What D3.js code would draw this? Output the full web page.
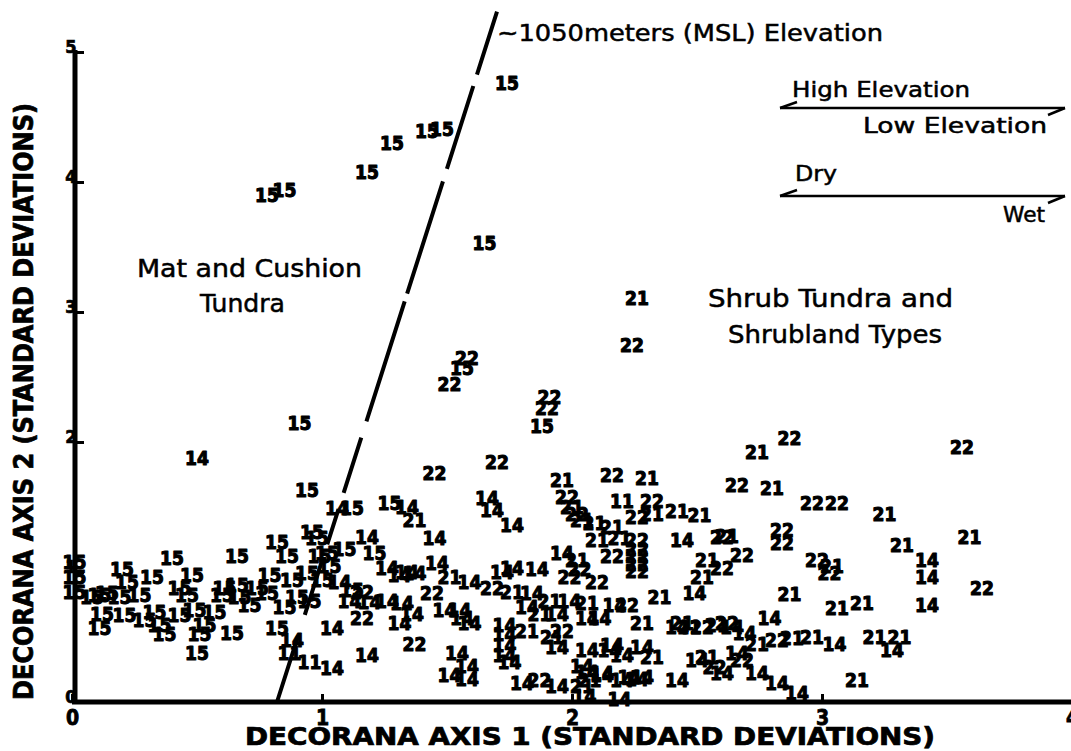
<!DOCTYPE html>
<html>
<head>
<meta charset="utf-8">
<script src="https://cdn.jsdelivr.net/npm/d3@7"></script>
<style>
  body { margin: 0; background: #fff; }
  svg { display: block; }
</style>
</head>
<body>
<svg id="chart" width="1071" height="751"></svg>
<script>
// DECORANA ordination: plot positions (axis 1, axis 2 in standard deviations),
// each plot drawn as its vegetation-type number.
const xTickValues = [0, 1, 2, 3, 4];
const yTickValues = [0, 1, 2, 3, 4, 5];

const type15 = [
  [1.74,4.76],[1.28,4.30],[1.42,4.39],[1.48,4.41],[1.18,4.08],[0.78,3.90],[0.85,3.94],
  [1.65,3.53],[1.56,2.57],[1.88,2.12],[0.91,2.15],[0.94,1.63],[1.12,1.49],[1.27,1.53],
  [0.96,1.31],[0.98,1.26],[0.82,1.23],[0.66,1.12],[0.40,1.11],[0.20,1.02],[0.32,0.96],
  [0.48,0.98],[0.79,0.98],[0.86,1.12],[0.99,1.12],[0.01,1.08],[0.01,0.96],[0.01,0.85],
  [0.11,0.82],[0.22,0.92],[0.43,0.88],[0.61,0.88],[0.66,0.90],[0.74,0.88],[0.88,0.94],
  [0.94,0.99],[0.08,0.81],[0.14,0.84],[0.19,0.81],[0.27,0.82],[0.46,0.82],[0.60,0.82],
  [0.67,0.81],[0.78,0.84],[0.90,0.81],[0.12,0.68],[0.21,0.67],[0.33,0.69],[0.35,0.59],
  [0.37,0.52],[0.49,0.71],[0.53,0.59],[0.51,0.52],[0.64,0.53],[0.11,0.57],[0.50,0.38],
  [0.82,0.57],[1.02,1.15],[1.09,1.18],[1.21,1.15],[1.03,1.05],[1.00,0.94],[1.12,0.86],
  [0.29,0.63],[0.43,0.67],[0.57,0.69],[0.71,0.75],[0.85,0.73],[0.95,0.78]
];

const type14 = [
  [0.50,1.88],[1.06,1.49],[1.34,1.50],[1.45,1.26],[1.66,1.57],[1.68,1.48],[1.76,1.36],
  [1.18,1.27],[1.26,1.03],[1.31,0.98],[1.34,1.00],[1.46,1.07],[1.59,0.92],[1.72,1.00],
  [1.76,1.03],[2.44,1.25],[3.42,1.09],[3.42,0.96],[3.42,0.75],[3.28,0.40],[2.49,0.84],
  [2.79,0.65],[2.17,0.75],[2.06,0.40],[2.16,0.44],[2.20,0.36],[2.64,0.58],[2.69,0.53],
  [2.50,0.32],[2.60,0.22],[2.66,0.38],[2.74,0.22],[2.82,0.15],[2.90,0.07],[2.06,0.23],
  [2.12,0.21],[2.20,0.17],[2.26,0.18],[2.42,0.17],[2.19,0.02],[1.04,0.57],[1.19,0.77],
  [1.26,0.78],[1.32,0.76],[1.31,0.61],[1.36,0.68],[1.49,0.71],[1.55,0.71],[1.56,0.65],
  [1.59,0.61],[1.18,0.36],[1.04,0.26],[1.54,0.38],[1.58,0.28],[1.51,0.21],[1.58,0.18],
  [1.94,0.12],[1.73,0.59],[1.73,0.52],[1.73,0.44],[1.73,0.36],[1.75,0.31],[0.88,0.48],
  [1.84,0.84],[1.99,0.78],[2.06,0.65],[1.94,0.68],[1.82,0.73],[1.94,0.42],[1.96,1.15],
  [1.86,1.02],[2.42,0.58],[2.28,0.42],[2.04,0.28],[2.12,0.22],[2.23,0.19],[2.28,0.19],
  [1.07,0.92],[1.11,0.78],[2.15,0.40],[1.37,0.99],[2.11,0.65],[3.05,0.45],[1.80,0.15],
  [2.05,0.05]
];

const type21 = [
  [2.26,3.11],[1.37,1.40],[1.51,0.96],[1.96,1.71],[2.00,1.50],[2.04,1.40],[2.30,1.72],
  [2.74,1.92],[2.80,1.65],[3.25,1.45],[3.32,1.21],[3.59,1.27],[2.32,1.45],[2.42,1.47],
  [2.51,1.44],[2.09,1.38],[2.16,1.35],[2.19,1.26],[2.10,1.25],[2.62,1.28],[2.54,1.09],
  [2.52,0.96],[2.02,1.09],[2.87,0.83],[3.04,1.05],[2.35,0.81],[1.91,0.78],[2.06,0.76],
  [1.87,0.68],[1.92,0.50],[2.28,0.61],[2.47,0.58],[2.32,0.35],[2.04,0.12],[2.07,0.17],
  [2.44,0.61],[2.58,0.59],[2.74,0.45],[2.88,0.49],[2.96,0.50],[3.06,0.72],[3.16,0.76],
  [3.21,0.50],[3.31,0.50],[3.14,0.17],[2.54,0.35],[1.76,0.85],[1.82,0.55]
];

const type22 = [
  [2.24,2.75],[1.58,2.65],[1.51,2.45],[1.91,2.35],[1.90,2.26],[1.45,1.76],[1.70,1.85],
  [2.16,1.75],[2.87,2.03],[3.56,1.96],[2.66,1.67],[2.96,1.53],[3.06,1.53],[3.64,0.88],
  [1.98,1.58],[2.02,1.45],[2.32,1.55],[2.26,1.42],[2.60,1.27],[2.16,1.12],[2.26,1.25],
  [2.26,1.18],[2.26,1.12],[2.26,1.06],[2.26,1.01],[2.68,1.13],[2.84,1.32],[2.84,1.22],
  [2.60,1.03],[2.98,1.09],[3.03,0.99],[2.10,0.92],[2.03,1.02],[1.99,0.96],[1.44,0.84],
  [1.68,0.88],[1.16,0.65],[1.37,0.45],[1.96,0.55],[2.22,0.75],[2.52,0.58],[2.62,0.61],
  [2.82,0.48],[2.57,0.27],[2.68,0.32],[1.87,0.17],[1.16,0.85]
];

const type11 = [[2.20,1.55],[0.95,0.31],[0.87,0.38]];

// Dashed boundary near ~1050 m elevation (axis-1, axis-2 end points)
const elevationBoundary = [[1.70,5.31],[0.82,0.0]];

const plotGroups = [
  { label: "15", points: type15 },
  { label: "14", points: type14 },
  { label: "21", points: type21 },
  { label: "22", points: type22 },
  { label: "11", points: type11 }
];

const svg = d3.select("#chart");
const x = d3.scaleLinear().domain([0, 4]).range([72, 1072]);
const y = d3.scaleLinear().domain([0, 5]).range([702, 52]);

const labelFont = "'Liberation Sans Narrow','DejaVu Sans Condensed',sans-serif";
const noteFont = "'DejaVu Sans',sans-serif";

// plot numbers
const marks = svg.append("g").attr("class", "plots");
plotGroups.forEach(g => {
  marks.selectAll(null)
    .data(g.points)
    .join("text")
    .attr("x", d => x(d[0]))
    .attr("y", d => y(d[1]))
    .attr("text-anchor", "middle")
    .attr("dominant-baseline", "central")
    .attr("font-family", labelFont)
    .attr("font-weight", "bold")
    .attr("font-size", 19)
    .attr("fill", "#000")
    .attr("stroke", "#000")
    .attr("stroke-width", 1.1)
    .attr("stroke-linejoin", "round")
    .text(g.label);
});

// elevation boundary
svg.append("path")
  .attr("d", d3.line().x(d => x(d[0])).y(d => y(d[1]))(elevationBoundary))
  .attr("fill", "none")
  .attr("stroke", "#000")
  .attr("stroke-width", 4)
  .attr("stroke-dasharray", "66,12,87,13,118,8,126,17,58,17,37,14,60,22,80");

// axes
const xAxis = d3.axisBottom(x).tickValues(xTickValues).tickSize(-8).tickFormat(d3.format("d"));
const yAxis = d3.axisLeft(y).tickValues(yTickValues).tickSize(-9).tickFormat(d3.format("d"));

const gx = svg.append("g").attr("transform", `translate(0,${y(0)})`).call(xAxis);
gx.select(".domain").attr("stroke-width", 5).attr("d", `M${x(0)},0H1071`);
gx.selectAll(".tick line").attr("stroke-width", 3);
gx.selectAll(".tick text")
  .attr("y", 8).attr("dy", "0.71em")
  .attr("font-family", labelFont).attr("font-weight", "bold").attr("font-size", 21)
  .attr("stroke", "#000").attr("stroke-width", 0.8);

const gy = svg.append("g").attr("transform", `translate(${x(0) + 3},0)`).call(yAxis);
gy.select(".domain").attr("stroke-width", 5).attr("d", `M0,${y(0)}V${y(5) - 2}`);
gy.selectAll(".tick line").attr("stroke-width", 3);
gy.selectAll(".tick text")
  .attr("x", -4).attr("dy", "0.05em").attr("text-anchor", "middle")
  .attr("font-family", labelFont).attr("font-weight", "bold").attr("font-size", 18)
  .attr("stroke", "#000").attr("stroke-width", 0.7);

// axis titles
svg.append("text")
  .attr("x", 245).attr("y", 745)
  .attr("textLength", 690).attr("lengthAdjust", "spacingAndGlyphs")
  .attr("font-family", labelFont).attr("font-weight", "bold").attr("font-size", 25)
  .attr("stroke", "#000").attr("stroke-width", 0.7)
  .text("DECORANA AXIS 1 (STANDARD DEVIATIONS)");

svg.append("text")
  .attr("transform", "translate(33,700) rotate(-90)")
  .attr("textLength", 597).attr("lengthAdjust", "spacingAndGlyphs")
  .attr("font-family", labelFont).attr("font-weight", "bold").attr("font-size", 26)
  .attr("stroke", "#000").attr("stroke-width", 0.7)
  .text("DECORANA AXIS 2 (STANDARD DEVIATIONS)");

// annotations
const notes = [
  { t: "~1050meters (MSL) Elevation", x: 497, y: 41, len: 386, s: 23 },
  { t: "High Elevation", x: 792, y: 97, len: 178, s: 21 },
  { t: "Low Elevation", x: 863, y: 133, len: 184, s: 21 },
  { t: "Dry", x: 795, y: 181, len: 42, s: 21 },
  { t: "Wet", x: 1003, y: 222, len: 42, s: 21 },
  { t: "Mat and Cushion", x: 137, y: 277, len: 225, s: 24 },
  { t: "Tundra", x: 200, y: 312, len: 85, s: 24 },
  { t: "Shrub Tundra and", x: 708, y: 307, len: 245, s: 24 },
  { t: "Shrubland Types", x: 728, y: 343, len: 214, s: 24 }
];
svg.append("g").selectAll("text")
  .data(notes)
  .join("text")
  .attr("x", d => d.x).attr("y", d => d.y)
  .attr("textLength", d => d.len).attr("lengthAdjust", "spacingAndGlyphs")
  .attr("font-family", noteFont).attr("font-size", d => d.s)
  .attr("fill", "#000").attr("stroke", "#000").attr("stroke-width", 0.5)
  .text(d => d.t);

// gradient arrows (half arrowheads at each end)
const arrows = [108, 196];
const ag = svg.append("g").attr("fill", "none").attr("stroke", "#000").attr("stroke-width", 2.5);
arrows.forEach(ay => {
  ag.append("path").attr("d", `M780,${ay}H1065`);
  ag.append("path").attr("d", `M797,${ay - 6}L780,${ay}`);
  ag.append("path").attr("d", `M1048,${ay + 7}L1065,${ay}`);
});
</script>
</body>
</html>
